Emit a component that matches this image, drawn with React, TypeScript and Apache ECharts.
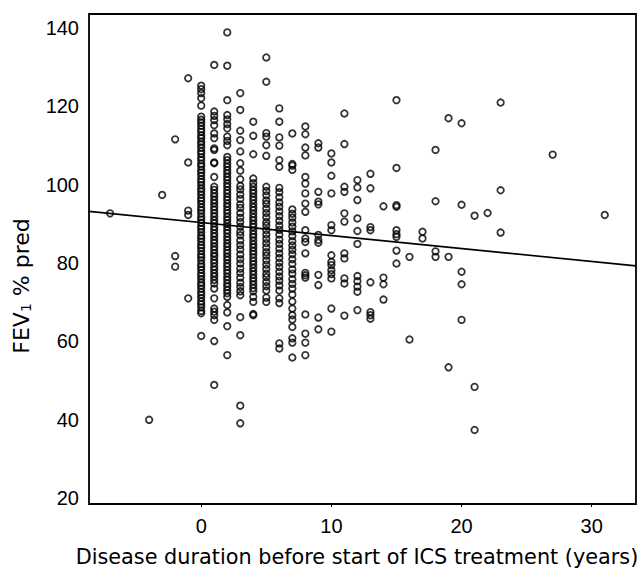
import React, { useEffect, useRef } from "react";
import * as echarts from "echarts";

// Disease duration (years) columns and the FEV1 % pred values read in each column
const durations = [-7, -4, -3, -2, -1, 0, 1, 2, 3, 4, 5, 6, 7, 8, 9, 10, 11, 12, 13, 14, 15, 16, 17, 18, 19, 20, 21, 22, 23, 27, 31];

const fevM7 = [92.7];
const fevM4 = [40.0];
const fevM3 = [97.4];
const fevM2 = [111.6, 81.8, 79.1];
const fevM1 = [127.2, 105.7, 93.4, 92.3, 71.0];
const fev0 = [125.3, 124.4, 123.4, 122.1, 120.2, 117.4, 116.6, 115.9, 115.1, 114.2, 113.5, 112.6, 111.9, 111.0, 110.3, 109.5, 108.6, 107.9, 107.0, 106.3, 105.4, 104.7, 103.8, 103.1, 102.3, 101.4, 100.7, 99.9, 99.0, 98.3, 97.5, 96.6, 95.9, 95.1, 94.2, 93.5, 92.7, 91.8, 91.1, 90.3, 89.4, 88.7, 87.9, 87.0, 86.3, 85.5, 84.6, 83.9, 83.1, 82.2, 81.5, 80.7, 79.8, 79.1, 78.3, 77.4, 76.7, 75.9, 75.0, 74.3, 73.5, 72.6, 71.9, 71.1, 70.2, 69.5, 68.7, 67.8, 67.2, 61.4];
const fev1 = [130.6, 118.7, 117.6, 116.5, 115.2, 113.1, 111.9, 109.3, 108.9, 105.7, 105.5, 102.0, 99.5, 98.7, 97.8, 97.0, 96.1, 95.3, 94.4, 93.6, 92.7, 91.9, 91.0, 90.2, 89.3, 88.5, 87.6, 86.8, 85.9, 85.1, 84.2, 83.4, 82.5, 81.7, 80.8, 80.0, 79.1, 78.3, 77.4, 76.6, 75.7, 74.8, 73.5, 71.0, 68.4, 67.6, 66.7, 65.5, 60.1, 48.9];
const fev2 = [138.9, 130.4, 121.6, 117.8, 116.7, 115.5, 114.4, 112.3, 111.2, 110.1, 107.1, 106.3, 105.4, 104.6, 103.7, 102.9, 102.0, 101.2, 100.3, 99.5, 98.6, 97.8, 96.9, 96.1, 95.2, 94.4, 93.5, 92.7, 91.8, 91.0, 90.1, 89.3, 88.4, 87.6, 86.7, 85.9, 85.0, 84.2, 83.3, 82.5, 81.6, 80.8, 79.9, 79.1, 78.2, 77.4, 76.5, 75.7, 74.8, 74.0, 73.1, 72.3, 71.4, 69.3, 67.4, 63.9, 56.5];
const fev3 = [123.4, 119.1, 113.8, 111.4, 108.5, 105.5, 103.6, 101.4, 99.7, 98.8, 97.5, 96.4, 95.0, 94.1, 92.8, 91.6, 90.5, 89.3, 88.0, 87.1, 85.8, 84.6, 83.5, 82.2, 81.0, 79.9, 78.6, 77.5, 76.3, 75.0, 73.9, 72.8, 71.8, 66.2, 61.6, 43.6, 39.1];
const fev4 = [116.1, 112.5, 107.8, 101.6, 100.4, 99.5, 98.6, 97.8, 96.9, 96.1, 95.2, 94.3, 93.5, 92.6, 91.7, 90.9, 90.0, 89.2, 88.3, 87.4, 86.6, 85.7, 84.8, 84.0, 83.1, 82.3, 81.4, 80.5, 79.7, 78.8, 77.9, 77.1, 76.2, 75.4, 74.5, 73.6, 72.8, 71.4, 70.1, 67.0, 66.7];
const fev5 = [132.5, 126.3, 113.2, 112.3, 110.1, 107.4, 99.5, 98.4, 97.3, 96.0, 95.1, 93.9, 92.8, 91.7, 90.5, 89.6, 88.4, 87.3, 86.2, 85.1, 84.0, 82.8, 81.9, 80.7, 79.6, 78.5, 77.3, 76.4, 75.2, 74.1, 73.0, 71.2, 70.1];
const fev6 = [119.5, 116.1, 112.1, 110.0, 106.3, 104.6, 99.2, 98.1, 96.8, 95.5, 94.4, 93.2, 92.0, 90.8, 89.6, 88.5, 87.3, 86.0, 84.9, 83.7, 82.5, 81.3, 80.1, 79.0, 77.8, 76.6, 75.5, 74.3, 73.0, 71.0, 69.8, 59.5, 58.2];
const fev7 = [113.1, 105.3, 104.9, 103.8, 93.7, 92.6, 91.6, 90.4, 89.3, 88.1, 86.9, 85.6, 84.5, 83.4, 82.3, 81.0, 79.8, 78.4, 77.3, 75.9, 74.7, 73.5, 72.0, 70.2, 68.4, 66.7, 65.6, 63.7, 60.8, 59.7, 55.9];
const fev8 = [114.9, 112.9, 109.5, 107.5, 102.0, 100.3, 97.8, 95.2, 93.1, 88.4, 86.3, 85.4, 82.5, 77.5, 76.9, 76.3, 66.9, 62.0, 59.7, 56.5];
const fev9 = [110.6, 109.5, 98.2, 95.7, 95.0, 87.2, 85.9, 85.2, 77.0, 74.4, 66.1, 63.1];
const fev10 = [108.0, 105.7, 102.3, 97.8, 89.7, 88.4, 82.0, 80.3, 79.5, 78.2, 77.2, 76.1, 68.4, 62.5];
const fev11 = [118.2, 110.4, 99.5, 98.2, 92.7, 90.6, 82.5, 81.2, 76.1, 74.8, 66.6];
const fev12 = [101.2, 99.3, 96.1, 91.4, 88.2, 84.9, 76.7, 75.4, 74.0, 72.7, 68.0];
const fev13 = [102.8, 99.1, 89.2, 88.4, 75.1, 67.5, 66.7, 65.8];
const fev14 = [94.5, 76.3, 74.6, 70.7];
const fev15 = [121.6, 104.3, 94.8, 94.4, 88.4, 87.4, 86.7, 83.2, 79.9];
const fev16 = [81.6, 60.5];
const fev17 = [88.0, 86.3];
const fev18 = [108.9, 95.8, 83.0, 81.6];
const fev19 = [117.0, 81.6, 53.4];
const fev20 = [115.7, 94.9, 77.8, 74.6, 65.5];
const fev21 = [92.1, 48.4, 37.4];
const fev22 = [92.8];
const fev23 = [121.0, 98.6, 87.8];
const fev27 = [107.7];
const fev31 = [92.3];

const fevByDuration = [fevM7, fevM4, fevM3, fevM2, fevM1, fev0, fev1, fev2, fev3, fev4, fev5, fev6, fev7, fev8, fev9, fev10, fev11, fev12, fev13, fev14, fev15, fev16, fev17, fev18, fev19, fev20, fev21, fev22, fev23, fev27, fev31];

// Axis ticks and ranges
const xTicks = [0, 10, 20, 30];
const yTicks = [20, 40, 60, 80, 100, 120, 140];
const xRange = [-8.62, 33.4];
const yRange = [18.5, 143.6];

// Linear regression fit (FEV1 % pred vs. duration)
const fitIntercept = 90.35;
const fitSlope = -0.331;

const xTitle = "Disease duration before start of ICS treatment (years)";

const TICK_FONT = "'Liberation Sans', Arial, sans-serif";
const TITLE_FONT = "'DejaVu Sans', sans-serif";

export default function App() {
  const ref = useRef<HTMLDivElement>(null);

  useEffect(() => {
    document.body.style.margin = "0";
    if (!ref.current) return;
    const chart = echarts.init(ref.current, null, { renderer: "svg" });

    const points: number[][] = [];
    durations.forEach((d, i) => {
      fevByDuration[i].forEach((v) => points.push([d, v]));
    });
    const fitLine = xRange.map((x) => [x, fitIntercept + fitSlope * x]);

    chart.setOption({
      animation: false,
      backgroundColor: "#fff",
      grid: {
        left: 89,
        top: 14,
        right: 7,
        bottom: 65,
        show: true,
        borderColor: "#000",
        borderWidth: 1.8,
        backgroundColor: "transparent",
      },
      graphic: [
        {
          type: "text",
          x: 357,
          y: 557,
          style: {
            text: xTitle,
            fill: "#000",
            fontSize: 20.8,
            fontFamily: TITLE_FONT,
            align: "center",
            verticalAlign: "middle",
          },
        },
        {
          type: "text",
          x: 21,
          y: 286,
          rotation: Math.PI / 2,
          style: {
            text: "{a|FEV}{s|1}{a| % pred}",
            align: "center",
            verticalAlign: "middle",
            rich: {
              a: { fontSize: 22, fontFamily: TITLE_FONT, fill: "#000", lineHeight: 24 },
              s: { fontSize: 14, fontFamily: TITLE_FONT, fill: "#000", lineHeight: 14, verticalAlign: "bottom" },
            },
          },
        },
      ],
      xAxis: {
        type: "value",
        min: xRange[0],
        max: xRange[1],
        splitLine: { show: false },
        axisLine: { show: false },
        axisTick: {
          show: true,
          customValues: xTicks,
          length: 3,
          lineStyle: { color: "#000", width: 1 },
        },
        axisLabel: {
          customValues: xTicks,
          color: "#000",
          fontSize: 20,
          fontFamily: TICK_FONT,
          margin: 12,
        },
      },
      yAxis: {
        type: "value",
        min: yRange[0],
        max: yRange[1],
        splitLine: { show: false },
        axisLine: { show: false },
        axisTick: { show: false },
        axisLabel: {
          customValues: yTicks,
          color: "#000",
          fontSize: 20,
          fontFamily: TICK_FONT,
          margin: 10,
        },
      },
      series: [
        {
          type: "scatter",
          data: points,
          symbol: "circle",
          symbolSize: 6.5,
          itemStyle: { color: "rgba(0,0,0,0)", borderColor: "#000", borderWidth: 1.8 },
          z: 2,
        },
        {
          type: "line",
          data: fitLine,
          symbol: "none",
          lineStyle: { color: "#000", width: 1.6 },
          z: 3,
        },
      ],
    });

    return () => chart.dispose();
  }, []);

  return <div ref={ref} style={{ width: 643, height: 569 }} />;
}
